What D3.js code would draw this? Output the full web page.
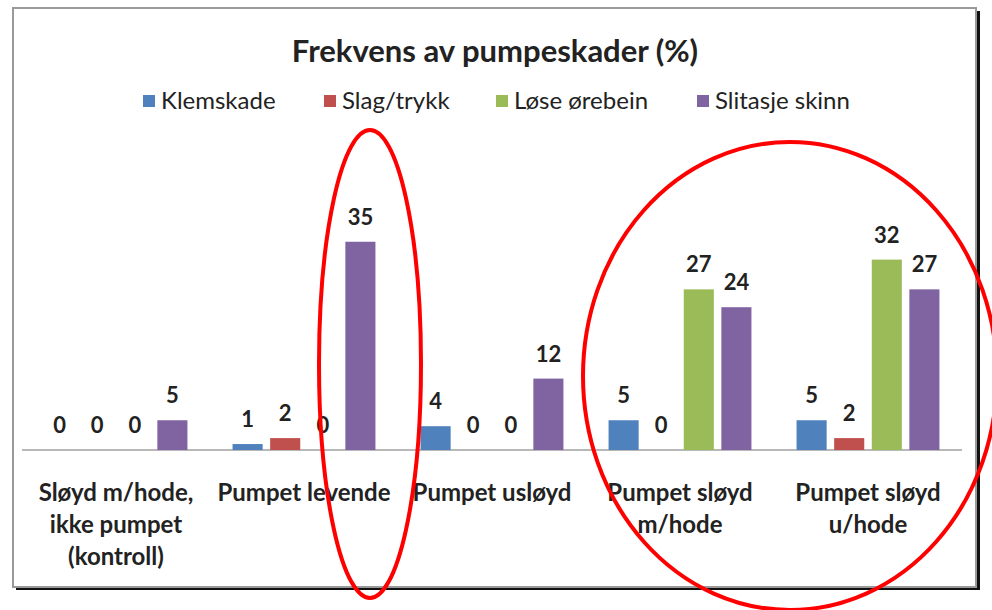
<!DOCTYPE html>
<html>
<head>
<meta charset="utf-8">
<script src="https://cdn.jsdelivr.net/npm/d3@7"></script>
<style>
  body { margin: 0; background: #fff; }
  svg { display: block; font-family: Lato, "Open Sans", sans-serif; }
</style>
</head>
<body>
<svg id="chart" width="992" height="610"></svg>
<script>
// chart data
const categories = [
  "Sløyd m/hode,\nikke pumpet\n(kontroll)",
  "Pumpet levende",
  "Pumpet usløyd",
  "Pumpet sløyd\nm/hode",
  "Pumpet sløyd\nu/hode"
];
const seriesNames = ["Klemskade", "Slag/trykk", "Løse ørebein", "Slitasje skinn"];
const klemskade = [0, 1, 4, 5, 5];
const slagTrykk = [0, 2, 0, 0, 2];
const loseOrebein = [0, 0, 0, 27, 32];
const slitasjeSkinn = [5, 35, 12, 24, 27];
const seriesColors = ["#4F81BD", "#C0504D", "#9BBB59", "#8064A2"];

const seriesValues = [klemskade, slagTrykk, loseOrebein, slitasjeSkinn];

const svg = d3.select("#chart");

// frame with shadow
svg.append("rect").attr("x", 16).attr("y", 11).attr("width", 964).attr("height", 579).attr("fill", "#111");
svg.append("rect").attr("x", 13).attr("y", 8).attr("width", 963).attr("height", 579)
  .attr("fill", "#fff").attr("stroke", "#9a9a9a").attr("stroke-width", 2);

// scales
const x0 = d3.scaleBand().domain(d3.range(categories.length)).range([22, 962]);
const x1 = d3.scaleBand().domain(d3.range(seriesNames.length))
  .range([0, x0.bandwidth()]).paddingInner(0.2).paddingOuter(0.6);
const y = d3.scaleLinear().domain([0, 40]).range([450, 212]);

// title
svg.append("text").attr("x", 495).attr("y", 62).attr("text-anchor", "middle")
  .attr("font-size", 31).attr("font-weight", 700).attr("fill", "#222")
  .text("Frekvens av pumpeskader (%)");

// legend
const legendX = [143, 324, 496, 697];
const legend = svg.append("g").selectAll("g").data(seriesNames).enter().append("g")
  .attr("transform", (d, i) => `translate(${legendX[i]},101)`);
legend.append("rect").attr("x", 0).attr("y", -6).attr("width", 12).attr("height", 12)
  .attr("fill", (d, i) => seriesColors[i]);
legend.append("text").attr("x", 18).attr("y", 8).attr("font-size", 24).attr("fill", "#222")
  .text(d => d);

// axis line
svg.append("line").attr("x1", 22).attr("x2", 962).attr("y1", y(0)).attr("y2", y(0))
  .attr("stroke", "#b8b8b8").attr("stroke-width", 2);

// bars + value labels
const groups = svg.append("g").selectAll("g").data(categories).enter().append("g")
  .attr("transform", (d, i) => `translate(${x0(i)},0)`);

groups.selectAll("rect")
  .data((d, ci) => seriesValues.map((vals, si) => ({ si, v: vals[ci] })))
  .enter().append("rect")
  .attr("x", d => x1(d.si))
  .attr("y", d => y(d.v))
  .attr("width", x1.bandwidth())
  .attr("height", d => y(0) - y(d.v))
  .attr("fill", d => seriesColors[d.si]);

groups.selectAll("text.val")
  .data((d, ci) => seriesValues.map((vals, si) => ({ si, v: vals[ci] })))
  .enter().append("text").attr("class", "val")
  .attr("x", d => x1(d.si) + x1.bandwidth() / 2)
  .attr("y", d => y(d.v) - 17)
  .attr("text-anchor", "middle").attr("font-size", 22).attr("font-weight", 700).attr("fill", "#222")
  .text(d => d.v);

// category labels
const catText = svg.append("g").selectAll("text").data(categories).enter().append("text")
  .attr("x", (d, i) => x0(i) + x0.bandwidth() / 2)
  .attr("y", 501)
  .attr("text-anchor", "middle").attr("font-size", 24).attr("font-weight", 700).attr("fill", "#222");
catText.selectAll("tspan").data(d => d.split("\n")).enter().append("tspan")
  .attr("x", function () { return this.parentNode.getAttribute("x"); })
  .attr("dy", (d, i) => i === 0 ? 0 : 32)
  .text(d => d);

// red highlight ellipses
svg.append("ellipse").attr("cx", 370).attr("cy", 364).attr("rx", 51).attr("ry", 234)
  .attr("fill", "none").attr("stroke", "#f00").attr("stroke-width", 4);
svg.append("ellipse").attr("cx", 790).attr("cy", 376).attr("rx", 207).attr("ry", 234)
  .attr("fill", "none").attr("stroke", "#f00").attr("stroke-width", 4);
</script>
</body>
</html>
